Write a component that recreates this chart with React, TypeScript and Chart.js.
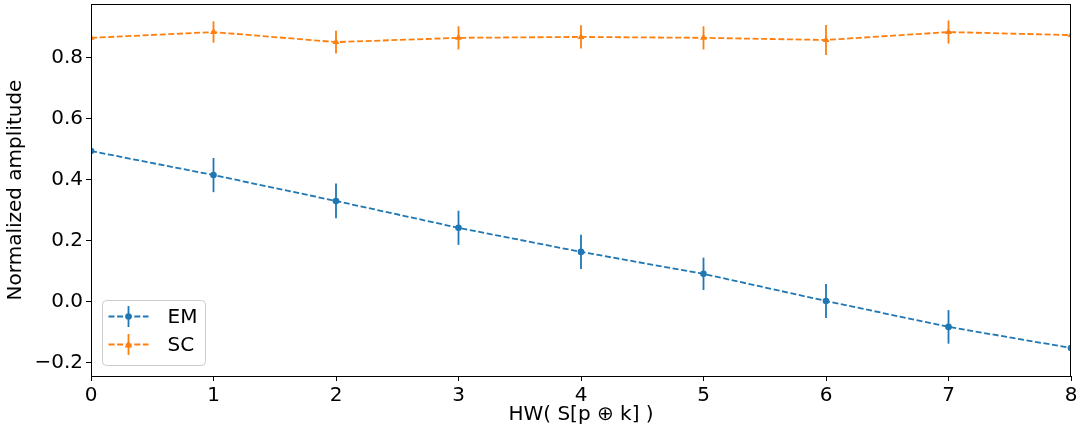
import React, { useEffect, useRef } from "react";
import { Chart, registerables } from "chart.js";
Chart.register(...registerables);

const xValues = [0, 1, 2, 3, 4, 5, 6, 7, 8];
const emValues = [0.495, 0.416, 0.331, 0.243, 0.164, 0.092, 0.003, -0.082, -0.151];
const emErrors = [0.055, 0.056, 0.057, 0.056, 0.056, 0.053, 0.056, 0.055, 0.055];
const scValues = [0.866, 0.885, 0.852, 0.866, 0.869, 0.866, 0.859, 0.885, 0.875];
const scErrors = [0.035, 0.035, 0.037, 0.038, 0.038, 0.038, 0.049, 0.038, 0.035];
const xTicks = [0, 1, 2, 3, 4, 5, 6, 7, 8];
const yTicks = [-0.2, 0, 0.2, 0.4, 0.6, 0.8];
const seriesNames = ["EM", "SC"];
const xTitle = "HW( S[p \u2295 k] )";
const yTitle = "Normalized amplitude";

const BLUE = "#1f77b4";
const ORANGE = "#ff7f0e";
const FONT = "'DejaVu Sans', sans-serif";
const FS = 20;

const errorBarPlugin = {
  id: "errorBars",
  beforeDatasetsDraw(chart: any) {
    const { ctx, chartArea, scales } = chart;
    const errs = [emErrors, scErrors];
    ctx.save();
    ctx.beginPath();
    ctx.rect(chartArea.left, chartArea.top, chartArea.right - chartArea.left, chartArea.bottom - chartArea.top);
    ctx.clip();
    chart.data.datasets.forEach((ds: any, i: number) => {
      ctx.strokeStyle = ds.borderColor;
      ctx.lineWidth = 1.8;
      ds.data.forEach((p: any, j: number) => {
        const x = scales.x.getPixelForValue(p.x);
        const y1 = scales.y.getPixelForValue(p.y - errs[i][j]);
        const y2 = scales.y.getPixelForValue(p.y + errs[i][j]);
        ctx.beginPath();
        ctx.moveTo(x, y1);
        ctx.lineTo(x, y2);
        ctx.stroke();
      });
    });
    ctx.restore();
  },
};

const framePlugin = {
  id: "frame",
  afterDraw(chart: any) {
    const { ctx, chartArea } = chart;
    ctx.save();
    ctx.strokeStyle = "#000";
    ctx.lineWidth = 1;
    ctx.strokeRect(chartArea.left + 0.5, chartArea.top + 0.5, chartArea.right - chartArea.left - 1, chartArea.bottom - chartArea.top);
    ctx.restore();
  },
};

const legendPlugin = {
  id: "customLegend",
  afterDraw(chart: any) {
    const { ctx, chartArea } = chart;
    const bx = chartArea.left + 11.5;
    const by = chartArea.bottom - 75.5;
    const bw = 103;
    const bh = 65;
    ctx.save();
    ctx.beginPath();
    (ctx as any).roundRect(bx, by, bw, bh, 4);
    ctx.fillStyle = "rgba(255,255,255,0.8)";
    ctx.fill();
    ctx.strokeStyle = "#cccccc";
    ctx.lineWidth = 1;
    ctx.stroke();
    const colors = [BLUE, ORANGE];
    const styles = ["circle", "triangle"];
    seriesNames.forEach((name, i) => {
      const cy = by + 16 + i * 28;
      const x0 = bx + 6;
      const x1 = bx + 46;
      const xm = (x0 + x1) / 2;
      ctx.strokeStyle = colors[i];
      ctx.lineWidth = 1.8;
      ctx.setLineDash([6, 2.6]);
      ctx.beginPath();
      ctx.moveTo(x0, cy);
      ctx.lineTo(x1, cy);
      ctx.stroke();
      ctx.setLineDash([]);
      ctx.beginPath();
      ctx.moveTo(xm, cy - 10.5);
      ctx.lineTo(xm, cy + 10.5);
      ctx.stroke();
      ctx.fillStyle = colors[i];
      ctx.beginPath();
      if (styles[i] === "circle") {
        ctx.arc(xm, cy, 3.3, 0, Math.PI * 2);
      } else {
        ctx.moveTo(xm, cy - 4);
        ctx.lineTo(xm + 3.8, cy + 3);
        ctx.lineTo(xm - 3.8, cy + 3);
        ctx.closePath();
      }
      ctx.fill();
      ctx.fillStyle = "#000";
      ctx.font = `${FS}px ${FONT}`;
      ctx.textBaseline = "middle";
      ctx.textAlign = "left";
      ctx.fillText(name, bx + 65, cy + 1);
    });
    ctx.restore();
  },
};

export default function App() {
  const ref = useRef<HTMLCanvasElement>(null);
  useEffect(() => {
    document.body.style.margin = "0";
    const chart = new Chart(ref.current!, {
      type: "line",
      data: {
        datasets: [
          {
            label: seriesNames[0],
            data: xValues.map((x, i) => ({ x, y: emValues[i] })),
            borderColor: BLUE,
            backgroundColor: BLUE,
            borderWidth: 1.8,
            borderDash: [6, 2.6],
            pointStyle: "circle",
            pointRadius: 3.3,
            pointBorderWidth: 0,
            fill: false,
            tension: 0,
            clip: 0,
          } as any,
          {
            label: seriesNames[1],
            data: xValues.map((x, i) => ({ x, y: scValues[i] })),
            borderColor: ORANGE,
            backgroundColor: ORANGE,
            borderWidth: 1.8,
            borderDash: [6, 2.6],
            pointStyle: "triangle",
            pointRadius: 4,
            pointBorderWidth: 0,
            fill: false,
            tension: 0,
            clip: 0,
          } as any,
        ],
      },
      options: {
        animation: false,
        responsive: false,
        devicePixelRatio: 1,
        layout: { padding: { top: 4, right: 8, left: 0, bottom: 0 } },
        plugins: { legend: { display: false }, tooltip: { enabled: false } },
        scales: {
          x: {
            type: "linear",
            min: 0,
            max: 8,
            afterBuildTicks: (s: any) => {
              s.ticks = xTicks.map((v) => ({ value: v }));
            },
            afterFit: (s: any) => {
              s.height = 54;
              s.paddingLeft = 0;
              s.paddingRight = 0;
            },
            grid: { display: true, drawOnChartArea: false, drawTicks: true, tickLength: 5, color: "#000" },
            border: { display: true, color: "#000", width: 1 },
            ticks: {
              color: "#000",
              font: { family: FONT, size: FS },
              padding: 3,
              maxRotation: 0,
              callback: (v: any) => String(v),
            },
            title: {
              display: true,
              text: xTitle,
              color: "#000",
              font: { family: FONT, size: FS },
              padding: { top: 0, bottom: 3 },
            },
          },
          y: {
            type: "linear",
            min: -0.243,
            max: 0.977,
            afterBuildTicks: (s: any) => {
              s.ticks = yTicks.map((v) => ({ value: v }));
            },
            afterFit: (s: any) => {
              s.width = 91;
              s.paddingTop = 0;
              s.paddingBottom = 0;
            },
            grid: { display: true, drawOnChartArea: false, drawTicks: true, tickLength: 5, color: "#000" },
            border: { display: true, color: "#000", width: 1 },
            ticks: {
              color: "#000",
              font: { family: FONT, size: FS },
              padding: 3,
              callback: (v: any) => (v < -1e-9 ? "\u2212" : "") + Math.abs(v).toFixed(1),
            },
            title: {
              display: true,
              text: yTitle,
              color: "#000",
              font: { family: FONT, size: FS },
              padding: { top: 4, bottom: 0 },
            },
          },
        },
      } as any,
      plugins: [errorBarPlugin, framePlugin, legendPlugin],
    });
    return () => chart.destroy();
  }, []);
  return (
    <div style={{ position: "absolute", left: 0, top: 0, width: 1079, height: 430, background: "#fff" }}>
      <canvas ref={ref} width={1079} height={430} />
    </div>
  );
}
